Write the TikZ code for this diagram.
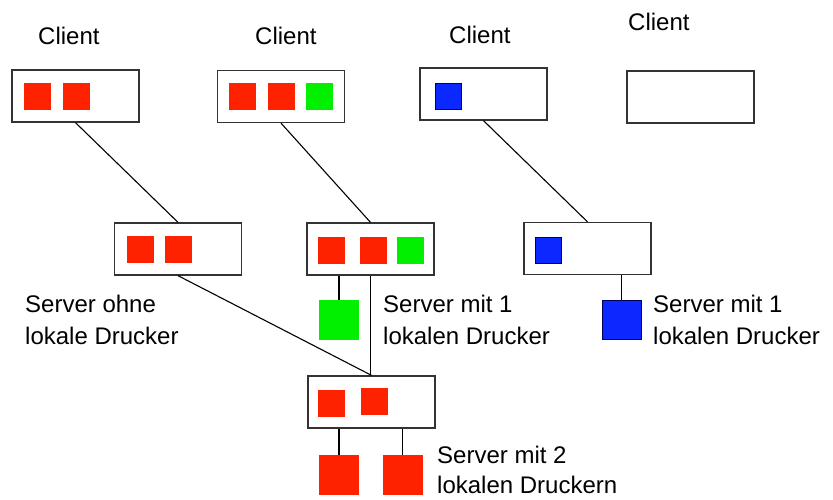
\documentclass[tikz,border=0pt]{standalone}
\usepackage{fontspec}
\setmainfont{Liberation Sans}
\begin{document}
\begin{tikzpicture}[x=1pt,y=-1pt,
  box/.style={draw=black!80,line width=1.3pt,fill=white,minimum width=127pt,minimum height=52pt,inner sep=0pt},
  redsq/.style={fill={rgb,255:red,255;green,34;blue,0},minimum size=27pt,inner sep=0pt},
  greensq/.style={fill={rgb,255:red,0;green,240;blue,0},minimum size=27pt,inner sep=0pt},
  bluesq/.style={fill={rgb,255:red,10;green,40;blue,255},draw={rgb,255:red,0;green,0;blue,90},line width=0.8pt,minimum size=26pt,inner sep=0pt},
  redpr/.style={redsq,minimum size=40pt},
  greenpr/.style={greensq,minimum size=40pt},
  bluepr/.style={bluesq,minimum size=39pt},
  link/.style={draw=black,line width=1.1pt},
  lbl/.style={font=\fontsize{24}{32}\selectfont,inner sep=0pt},
  captext/.style={lbl,align=left,anchor=north west}
]
\useasboundingbox (0,0) rectangle (833,500);

% clients
\node[lbl,anchor=base west] (t1) at (38,45) {Client};
\node[lbl,anchor=base west] (t2) at (255,45) {Client};
\node[lbl,anchor=base west] (t3) at (449,44) {Client};
\node[lbl,anchor=base west] (t4) at (628,31) {Client};

\node[box] (C1) at (75.5,96) {};
\node[box] (C2) at (281,96.5) {};
\node[box] (C3) at (483.5,94) {};
\node[box] (C4) at (690.5,97) {};

\node[redsq] (c1a) at (37.5,96.5) {};
\node[redsq] (c1b) at (76.5,96.5) {};
\node[redsq] (c2a) at (242.5,96.5) {};
\node[redsq] (c2b) at (281.5,96.5) {};
\node[greensq] (c2c) at (319.5,96.5) {};
\node[bluesq] (c3a) at (448.5,96.5) {};

% servers
\node[box] (S1) at (178,249) {};
\node[box] (S2) at (370.5,249) {};
\node[box] (S3) at (587.5,248.5) {};
\node[box] (S4) at (371.5,402) {};

\node[redsq] (s1a) at (140.5,249.5) {};
\node[redsq] (s1b) at (178.5,249.5) {};
\node[redsq] (s2a) at (331.5,250) {};
\node[redsq] (s2b) at (373,250) {};
\node[greensq] (s2c) at (410.5,250) {};
\node[bluesq] (s3a) at (548,250) {};
\node[redsq] (s4a) at (331.5,403) {};
\node[redsq] (s4b) at (374,401) {};

% local printers
\node[greenpr] (P2) at (339,320) {};
\node[bluepr] (P3) at (621.5,320) {};
\node[redpr] (P4a) at (339,475) {};
\node[redpr] (P4b) at (402.5,475) {};

% connections
\draw[link] (C1.south) -- (S1.north);
\draw[link] (C2.south) -- (S2.north);
\draw[link] (C3.south) -- (S3.north);
\draw[link] (S1.south) -- (S4.north);
\draw[link] (S2.south) -- (S2.south |- S4.north);
\draw[link] (P2.north |- S2.south) -- (P2.north);
\draw[link] (P3.north |- S3.south) -- (P3.north);
\draw[link] (P4a.north |- S4.south) -- (P4a.north);
\draw[link] (P4b.north |- S4.south) -- (P4b.north);

% captions
\node[captext] (L1) at (25,295) {Server ohne\\lokale Drucker};
\node[captext] (L2) at (383,295) {Server mit 1\\lokalen Drucker};
\node[captext] (L3) at (653,295) {Server mit 1\\lokalen Drucker};
\node[captext,font=\fontsize{24}{30}\selectfont] (L4) at (437,446) {Server mit 2\\lokalen Druckern};
\end{tikzpicture}
\end{document}
